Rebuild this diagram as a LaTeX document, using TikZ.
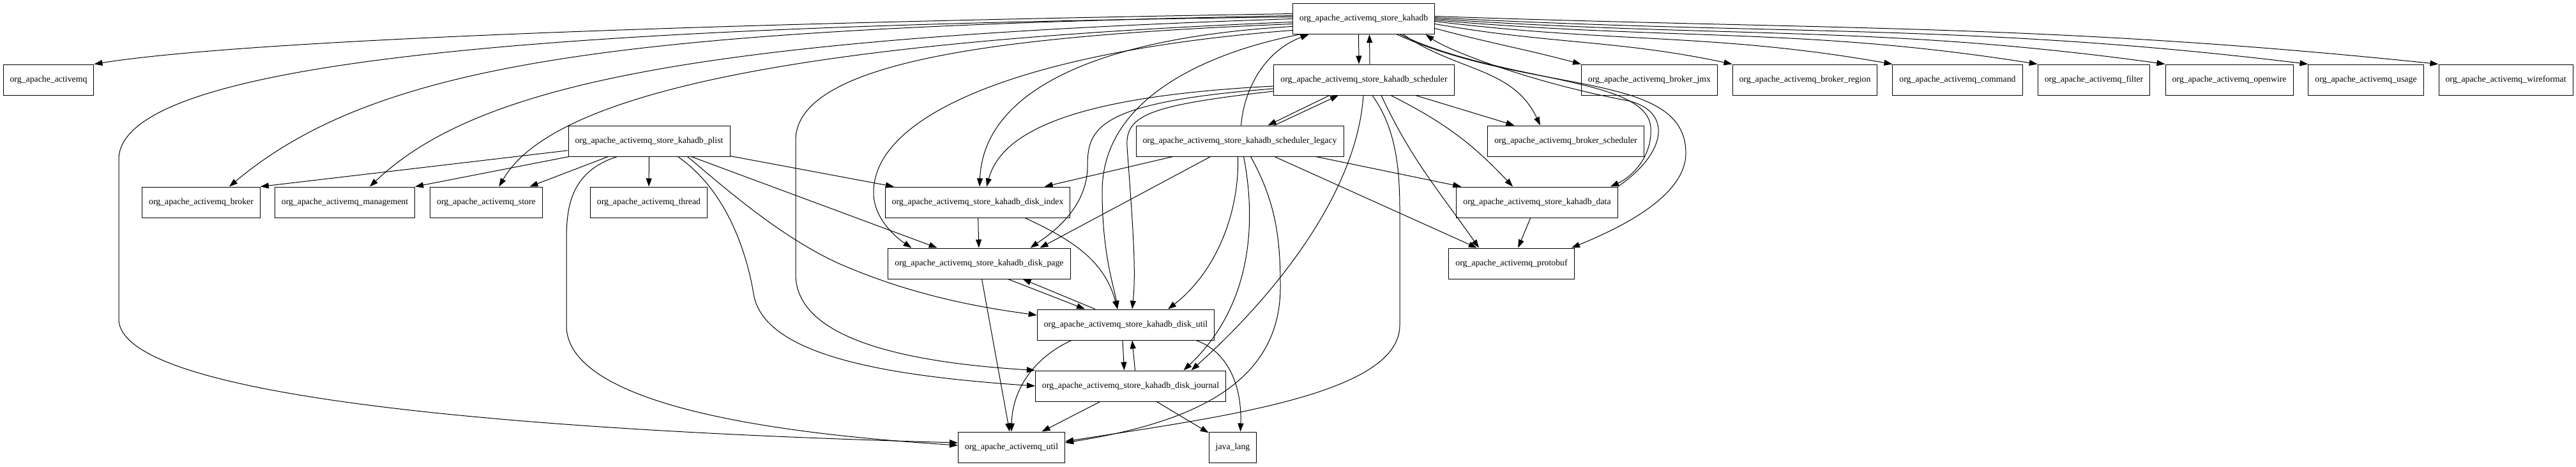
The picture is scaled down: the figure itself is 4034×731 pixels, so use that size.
\documentclass[tikz,border=0pt]{standalone}
\usepackage{fontspec}
\setmainfont{Liberation Serif}
\usepackage{tikz}
\usetikzlibrary{arrows.meta}
\newcommand{\pkgfont}{\fontsize{13.8pt}{16pt}\selectfont}

\begin{document}
\begin{tikzpicture}[x=1pt,y=-1pt,
  pkg/.style={rectangle,draw,line width=1pt,minimum height=48pt,inner xsep=10.5pt,font=\pkgfont},
  dep/.style={-{Triangle[length=13pt,width=9pt]},line width=1pt}]
\useasboundingbox (0,0) rectangle (4034,731);
% packages, row by row
\node[pkg] (KD) at (2135.5,29.5) {org\_apache\_activemq\_store\_kahadb};
\node[pkg] (AMQ) at (76,125) {org\_apache\_activemq};
\node[pkg] (SCH) at (2136,125) {org\_apache\_activemq\_store\_kahadb\_scheduler};
\node[pkg] (JMX) at (2583,125) {org\_apache\_activemq\_broker\_jmx};
\node[pkg] (REG) at (2826.5,125) {org\_apache\_activemq\_broker\_region};
\node[pkg] (CMD) at (3065.5,125) {org\_apache\_activemq\_command};
\node[pkg] (FIL) at (3279,125) {org\_apache\_activemq\_filter};
\node[pkg] (OWR) at (3491,125) {org\_apache\_activemq\_openwire};
\node[pkg] (USG) at (3705,125) {org\_apache\_activemq\_usage};
\node[pkg] (WIR) at (3924,125) {org\_apache\_activemq\_wireformat};
\node[pkg] (PL) at (1016.5,221) {org\_apache\_activemq\_store\_kahadb\_plist};
\node[pkg] (LEG) at (1941.5,221) {org\_apache\_activemq\_store\_kahadb\_scheduler\_legacy};
\node[pkg] (BSC) at (2452,221) {org\_apache\_activemq\_broker\_scheduler};
\node[pkg] (BRK) at (315,317) {org\_apache\_activemq\_broker};
\node[pkg] (MGT) at (540,317) {org\_apache\_activemq\_management};
\node[pkg] (STO) at (761.5,317) {org\_apache\_activemq\_store};
\node[pkg] (THR) at (1016,317) {org\_apache\_activemq\_thread};
\node[pkg] (IDX) at (1531,317) {org\_apache\_activemq\_store\_kahadb\_disk\_index};
\node[pkg] (DAT) at (2407,317) {org\_apache\_activemq\_store\_kahadb\_data};
\node[pkg] (PAG) at (1533.5,413) {org\_apache\_activemq\_store\_kahadb\_disk\_page};
\node[pkg] (PB) at (2367,413) {org\_apache\_activemq\_protobuf};
\node[pkg] (UTL) at (1763,509) {org\_apache\_activemq\_store\_kahadb\_disk\_util};
\node[pkg] (JRN) at (1770.5,605) {org\_apache\_activemq\_store\_kahadb\_disk\_journal};
\node[pkg] (AU) at (1584,701) {org\_apache\_activemq\_util};
\node[pkg] (JL) at (1930.5,701) {java\_lang};

% kahadb, to the left
\draw[dep] ([yshift=8pt]KD.west) .. controls (1200,35) and (400,60) .. (AMQ.north east);
\draw[dep] ([yshift=3pt]KD.west) .. controls (1000,40) and (186,80) .. (186,250) -- (186,500) .. controls (186,640) and (1000,680) .. ([yshift=7pt]AU.west);
\draw[dep] ([yshift=5pt]KD.west) .. controls (1000,45) and (600,90) .. ([xshift=44pt]BRK.north);
\draw[dep] (KD.west) .. controls (1100,60) and (750,130) .. ([xshift=39pt]MGT.north);
\draw[dep] ([yshift=-5pt]KD.west) .. controls (1400,60) and (880,120) .. ([xshift=20pt]STO.north);
\draw[dep] ([yshift=-8pt]KD.west) .. controls (1600,55) and (1246,90) .. (1246,220) -- (1246,430) .. controls (1246,540) and (1450,570) .. (JRN.north west);
\draw[dep] ([yshift=-12pt]KD.west) .. controls (1700,60) and (1540,150) .. ([xshift=3pt]IDX.north);
\draw[dep] ([yshift=-18pt]KD.west) .. controls (1600,80) and (1370,180) .. (1368,300) .. controls (1367,340) and (1400,370) .. ([xshift=-106pt]PAG.north);
\draw[dep] ([xshift=-100pt]KD.south) .. controls (1900,80) and (1726,150) .. (1726,300) .. controls (1726,400) and (1745,450) .. ([xshift=-13pt]UTL.north);
\draw[dep] ([xshift=-8pt]KD.south) -- ([xshift=-8pt]SCH.north);
\draw[dep] ([xshift=9pt]SCH.north) -- ([xshift=9pt]KD.south);
% kahadb, to the right
\draw[dep] ([yshift=-15pt]KD.east) to[out=-15,in=165] (JMX.north west);
\draw[dep] ([yshift=-8pt]KD.east) to[out=-10,in=168] (REG.north west);
\draw[dep] ([yshift=-4pt]KD.east) to[out=-7,in=170] (CMD.north west);
\draw[dep] ([yshift=-2pt]KD.east) to[out=-5,in=171] (FIL.north west);
\draw[dep] (KD.east) .. controls (2693,60) and (2948,39) .. (OWR.north west);
\draw[dep] ([yshift=2pt]KD.east) .. controls (2780,56) and (3084,36) .. (USG.north west);
\draw[dep] ([yshift=4pt]KD.east) .. controls (2861,47) and (3208,37) .. (WIR.north west);
\draw[dep] ([xshift=62pt]KD.south) to[out=-35,in=115] ([xshift=-40pt]BSC.north);
\draw[dep] ([xshift=57pt]KD.south) .. controls (2350,130) and (2580,120) .. (2585,200) .. controls (2588,250) and (2550,280) .. ([xshift=115pt]DAT.north);
\draw[dep] (DAT.north east) .. controls (2610,240) and (2620,175) .. (2550,158) .. controls (2400,130) and (2270,80) .. ([xshift=97pt]KD.south);
\draw[dep] ([xshift=52pt]KD.south) .. controls (2400,150) and (2640,110) .. (2640,240) .. controls (2640,310) and (2530,360) .. ([xshift=94pt]PB.north);

% scheduler
\draw[dep] ([xshift=-54pt]SCH.south) -- ([xshift=44pt]LEG.north);
\draw[dep] ([xshift=54pt]LEG.north) -- ([xshift=-40pt]SCH.south);
\draw[dep] (SCH) -- (BSC);
\draw[dep] ([xshift=42pt]SCH.south) to[bend left=10] ([xshift=-38pt]DAT.north);
\draw[dep] ([xshift=27pt]SCH.south) to[out=-65,in=125] ([xshift=-51pt]PB.north);
\draw[dep] ([yshift=-10pt]SCH.west) .. controls (1700,150) and (1570,200) .. ([xshift=14pt]IDX.north);
\draw[dep] ([yshift=-14pt]SCH.west) .. controls (1720,160) and (1703,200) .. (1703,260) .. controls (1703,330) and (1640,370) .. ([xshift=80pt]PAG.north);
\draw[dep] ([yshift=-18pt]SCH.west) .. controls (1800,165) and (1762,180) .. (1765,230) .. controls (1772,330) and (1780,420) .. ([xshift=10pt]UTL.north);
\draw[dep] ([xshift=-1pt]SCH.south) .. controls (2125,300) and (2000,460) .. ([xshift=95pt]JRN.north);
\draw[dep] ([xshift=13pt]SCH.south) .. controls (2185,200) and (2192,260) .. (2192,330) -- (2192,510) .. controls (2192,620) and (1900,655) .. ([yshift=9pt]AU.east);

% scheduler_legacy
\draw[dep] ([xshift=2pt]LEG.north) .. controls (1948,140) and (1980,80) .. ([xshift=-86pt]KD.south);
\draw[dep] (LEG) -- (IDX);
\draw[dep] (LEG) -- ([xshift=95pt]PAG.north);
\draw[dep] ([xshift=-3pt]LEG.south) .. controls (1941,340) and (1900,430) .. ([xshift=66pt]UTL.north);
\draw[dep] ([xshift=6pt]LEG.south) .. controls (1968,350) and (1960,480) .. ([xshift=83pt]JRN.north);
\draw[dep] ([xshift=17pt]LEG.south) .. controls (2000,320) and (2005,380) .. (2005,450) .. controls (2005,610) and (1850,665) .. ([yshift=7pt]AU.east);
\draw[dep] (LEG) -- (DAT);
\draw[dep] (LEG) -- (PB);

% plist
\draw[dep] (PL) -- (BRK.north east);
\draw[dep] (PL) -- (MGT.north east);
\draw[dep] (PL) -- ([xshift=68pt]STO.north);
\draw[dep] (PL) -- (THR);
\draw[dep] (PL) -- (IDX);
\draw[dep] (PL) -- (PAG);
\draw[dep] ([xshift=60pt]PL.south) .. controls (1130,290) and (1230,380) .. (1330,420) .. controls (1450,470) and (1560,485) .. ([yshift=15pt]UTL.west);
\draw[dep] ([xshift=45pt]PL.south) .. controls (1140,300) and (1170,400) .. (1180,460) .. controls (1195,560) and (1400,590) .. (JRN.west);
\draw[dep] ([xshift=-50pt]PL.south) .. controls (890,270) and (887,330) .. (887,380) -- (887,510) .. controls (887,650) and (1300,685) .. ([yshift=3pt]AU.west);

% disk packages
\draw[dep] (IDX) -- (PAG);
\draw[dep] ([xshift=74pt]IDX.south) to[out=-25,in=105] ([xshift=-13pt]UTL.north);
\draw[dep] ([xshift=45pt]PAG.south) -- ([xshift=-64pt]UTL.north);
\draw[dep] ([xshift=-48pt]UTL.north) -- ([xshift=68pt]PAG.south);
\draw[dep] ([xshift=4pt]PAG.south) -- ([xshift=-3pt]AU.north);
\draw[dep] ([xshift=-5pt]UTL.south) -- ([xshift=-10pt]JRN.north);
\draw[dep] ([xshift=7pt]JRN.north) -- ([xshift=10pt]UTL.south);
\draw[dep] ([xshift=-85pt]UTL.south) .. controls (1620,560) and (1585,610) .. (AU.north);
\draw[dep] ([xshift=110pt]UTL.south) .. controls (1920,550) and (1945,600) .. ([xshift=12pt]JL.north);
\draw[dep] (JRN) -- (AU);
\draw[dep] (JRN) -- (JL);
\draw[dep] (DAT) -- (PB);
\end{tikzpicture}
\end{document}
